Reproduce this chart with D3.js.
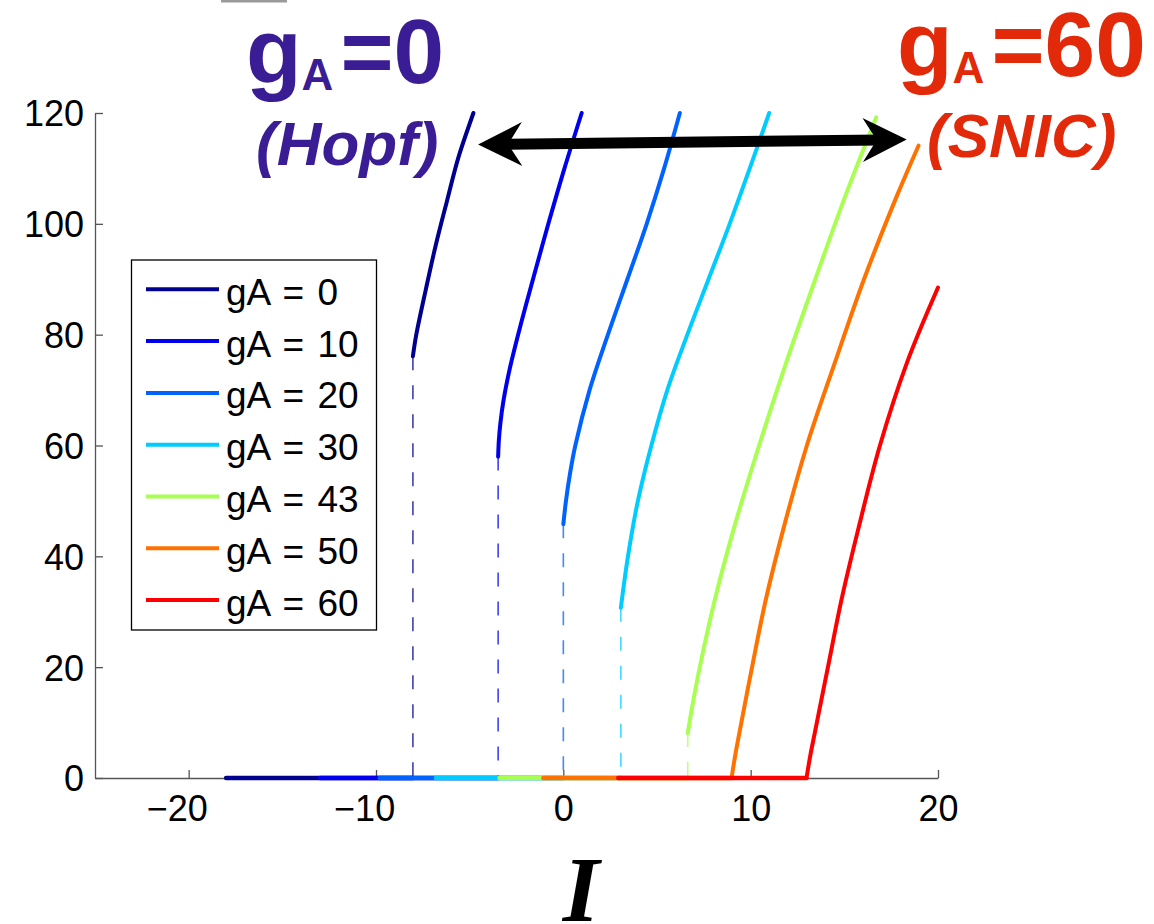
<!DOCTYPE html>
<html>
<head>
<meta charset="utf-8">
<script src="https://cdn.jsdelivr.net/npm/d3@7"></script>
<style>
  html, body { margin: 0; padding: 0; background: #fff; }
  svg { display: block; }
</style>
</head>
<body>
<div id="chart"></div>
<script>
// Datos: frecuencia f frente a la corriente I, una rama por cada gA
var gA = [0, 10, 20, 30, 43, 50, 60];
var colores = ["#00008f", "#0000ee", "#0062ff", "#00ccff", "#a8ff52", "#ff7200", "#ff0000"];

// tramo en f = 0 (estado en reposo): desde donde empieza cada serie
var inicioCero = [-18, -13, -9.8, -6.8, -3.4, -1.07, 2.93];

var I_gA0  = [-8.03, -7.85, -7.35, -6.82, -6.22, -5.6, -4.8];
var f_gA0  = [76.1, 80, 88, 96, 104, 112, 120];
var I_gA10 = [-3.48, -3.44, -3.36, -3.2, -2.85, -2.26, -1.62, -0.8, 0.06, 0.98];
var f_gA10 = [58, 61, 64, 68, 74, 82, 90, 100, 110, 120];
var I_gA20 = [0, 0.14, 0.36, 0.64, 1.4, 2.38, 3.42, 4.45, 5.38, 6.22];
var f_gA20 = [45.8, 50, 55, 60, 70, 80, 90, 100, 110, 120];
var I_gA30 = [3.07, 3.45, 3.98, 4.7, 5.55, 6.62, 7.75, 8.88, 9.95, 10.99];
var f_gA30 = [30.7, 40, 50, 60, 70, 80, 90, 100, 110, 120];
var I_gA43 = [6.64, 6.94, 7.29, 8.09, 9.1, 10.45, 11.9, 13.45, 15.05, 16.7];
var f_gA43 = [8.1, 14, 20.1, 32.2, 45, 60, 75, 90, 105, 119.2];
var I_gA50 = [8.98, 9.17, 9.4, 10.08, 10.81, 11.75, 13.0, 14.5, 16.05, 17.8, 18.96];
var f_gA50 = [0, 4, 8.2, 20.1, 32.2, 45, 60, 75, 90, 105, 114.1];
var I_gA60 = [12.98, 13.18, 13.42, 14.13, 14.85, 15.75, 16.9, 18.35, 20];
var f_gA60 = [0, 4, 8.1, 20.1, 32.2, 45, 60, 75, 88.5];

var xTicks = [-20, -10, 0, 10, 20];
var yTicks = [0, 20, 40, 60, 80, 100, 120];

// extremos de la flecha doble (en unidades del gráfico)
var flechaI = [-4.55, 18.33];
var flechaF = [114.3, 115.2];

var ramasI = [I_gA0, I_gA10, I_gA20, I_gA30, I_gA43, I_gA50, I_gA60];
var ramasF = [f_gA0, f_gA10, f_gA20, f_gA30, f_gA43, f_gA50, f_gA60];

var W = 1154, H = 924;
var fuente = "'Liberation Sans', Arial, Helvetica, sans-serif";

var svg = d3.select("#chart")
            .append("svg")
            .attr("width", W)
            .attr("height", H);

var x = d3.scaleLinear().domain([-25, 20]).range([95, 938]);
var y = d3.scaleLinear().domain([0, 120]).range([778, 113]);

// pequeño resto gris arriba (recorte de la imagen original)
svg.append("rect")
   .attr("x", 221).attr("y", 0)
   .attr("width", 66).attr("height", 2.5)
   .attr("fill", "#9a9a9a");

//EJES
var ejeX = svg.append("g")
              .attr("transform", "translate(0," + y(0) + ")")
              .call(d3.axisBottom(x)
                      .tickValues(xTicks)
                      .tickSize(-8)
                      .tickSizeOuter(0)
                      .tickPadding(17));

var ejeY = svg.append("g")
              .attr("transform", "translate(" + x(-25) + ",0)")
              .call(d3.axisLeft(y)
                      .tickValues(yTicks)
                      .tickSize(-8)
                      .tickSizeOuter(0)
                      .tickPadding(11));

[ejeX, ejeY].forEach(function(eje){
  eje.select(".domain").attr("stroke", "#555").attr("stroke-width", 1.3);
  eje.selectAll(".tick line").attr("stroke", "#555").attr("stroke-width", 1.3);
  eje.selectAll("text")
     .attr("font-family", fuente)
     .attr("font-size", 36)
     .attr("fill", "#000");
});
ejeY.selectAll(".tick text").attr("dy", "0.36em");

// en el original las etiquetas negativas quedan corridas a la izquierda
ejeX.selectAll(".tick text")
    .filter(function(d){ return d < 0; })
    .attr("dx", "-0.33em");

//SERIES
var linea = d3.line()
              .x(function(d){ return x(d[0]); })
              .y(function(d){ return y(d[1]); })
              .curve(d3.curveCatmullRom.alpha(0.5));

var capa = svg.append("g");

gA.forEach(function(g, i){
  var Is = ramasI[i], fs = ramasF[i];
  var color = colores[i];

  // tramo en reposo (f = 0)
  capa.append("line")
      .attr("x1", x(inicioCero[i])).attr("y1", y(0))
      .attr("x2", x(Is[0])).attr("y2", y(0))
      .attr("stroke", color)
      .attr("stroke-width", 4.5)
      .attr("stroke-linecap", "round");

  // salto discontinuo (Hopf) cuando la rama empieza con f > 0
  if(fs[0] > 0){
    capa.append("line")
        .attr("x1", x(Is[0])).attr("y1", y(fs[0]))
        .attr("x2", x(Is[0])).attr("y2", y(0))
        .attr("stroke", color)
        .attr("stroke-opacity", 0.75)
        .attr("stroke-width", 1.6)
        .attr("stroke-dasharray", "14,15");
  }

  capa.append("path")
      .datum(d3.zip(Is, fs))
      .attr("d", linea)
      .attr("fill", "none")
      .attr("stroke", color)
      .attr("stroke-width", 4)
      .attr("stroke-linecap", "round");
});

//LEYENDA
var leyenda = svg.append("g");
leyenda.append("rect")
       .attr("x", 131.5).attr("y", 260)
       .attr("width", 245).attr("height", 370)
       .attr("fill", "#fff")
       .attr("stroke", "#000")
       .attr("stroke-width", 1.3);

gA.forEach(function(g, i){
  var yy = 289.3 + i * 51.8;
  leyenda.append("line")
         .attr("x1", 146).attr("x2", 219)
         .attr("y1", yy).attr("y2", yy)
         .attr("stroke", colores[i])
         .attr("stroke-width", 4);
  leyenda.append("text")
         .attr("x", 226)
         .attr("y", yy)
         .attr("dy", "0.42em")
         .attr("font-family", fuente)
         .attr("font-size", 37)
         .attr("word-spacing", 3)
         .attr("fill", "#000")
         .text("gA = " + g);
});

//FLECHA DOBLE
var p1 = [x(flechaI[0]), y(flechaF[0])];
var p2 = [x(flechaI[1]), y(flechaF[1])];
var dx = p2[0] - p1[0], dy = p2[1] - p1[1];
var len = Math.sqrt(dx * dx + dy * dy);
var u = [dx / len, dy / len];
var n = [-u[1], u[0]];
var largo = 44, ancho = 22, muesca = 30;

function punta(tip, dir){
  var b = [tip[0] - dir[0] * largo, tip[1] - dir[1] * largo];
  var m = [tip[0] - dir[0] * muesca, tip[1] - dir[1] * muesca];
  return [tip,
          [b[0] + n[0] * ancho, b[1] + n[1] * ancho],
          m,
          [b[0] - n[0] * ancho, b[1] - n[1] * ancho]];
}

var flecha = svg.append("g");
flecha.append("line")
      .attr("x1", p1[0] + u[0] * 25).attr("y1", p1[1] + u[1] * 25)
      .attr("x2", p2[0] - u[0] * 25).attr("y2", p2[1] - u[1] * 25)
      .attr("stroke", "#000")
      .attr("stroke-width", 11);
flecha.selectAll("path.punta")
      .data([punta(p1, [-u[0], -u[1]]), punta(p2, u)])
      .enter().append("path")
      .attr("class", "punta")
      .attr("d", function(d){ return "M" + d.join("L") + "Z"; })
      .attr("fill", "#000");

//ANOTACIONES
var morado = "#3a1c94", rojo = "#e2290a";

function titulo(px, py, valor, color){
  var t = svg.append("text")
             .attr("x", px).attr("y", py)
             .attr("font-family", fuente)
             .attr("font-weight", "bold")
             .attr("font-size", 91)
             .attr("fill", color);
  t.append("tspan").text("g");
  t.append("tspan").attr("font-size", 44).attr("dy", 7).text("A");
  t.append("tspan").attr("dy", -7).attr("dx", 7).text("=" + valor);
  return t;
}

titulo(246, 83, "0", morado);
titulo(897, 76, "60", rojo);

svg.append("text")
   .attr("x", 256).attr("y", 165)
   .attr("font-family", fuente)
   .attr("font-weight", "bold")
   .attr("font-style", "italic")
   .attr("font-size", 62)
   .attr("fill", morado)
   .text("(Hopf)");

svg.append("text")
   .attr("x", 927).attr("y", 157)
   .attr("font-family", fuente)
   .attr("font-weight", "bold")
   .attr("font-style", "italic")
   .attr("font-size", 62)
   .attr("fill", rojo)
   .text("(SNIC)");

// etiqueta del eje x
svg.append("text")
   .attr("x", 581).attr("y", 921)
   .attr("text-anchor", "middle")
   .attr("font-family", "'Liberation Serif', 'Times New Roman', serif")
   .attr("font-weight", "bold")
   .attr("font-style", "italic")
   .attr("font-size", 94)
   .attr("fill", "#000")
   .text("I");
</script>
</body>
</html>
